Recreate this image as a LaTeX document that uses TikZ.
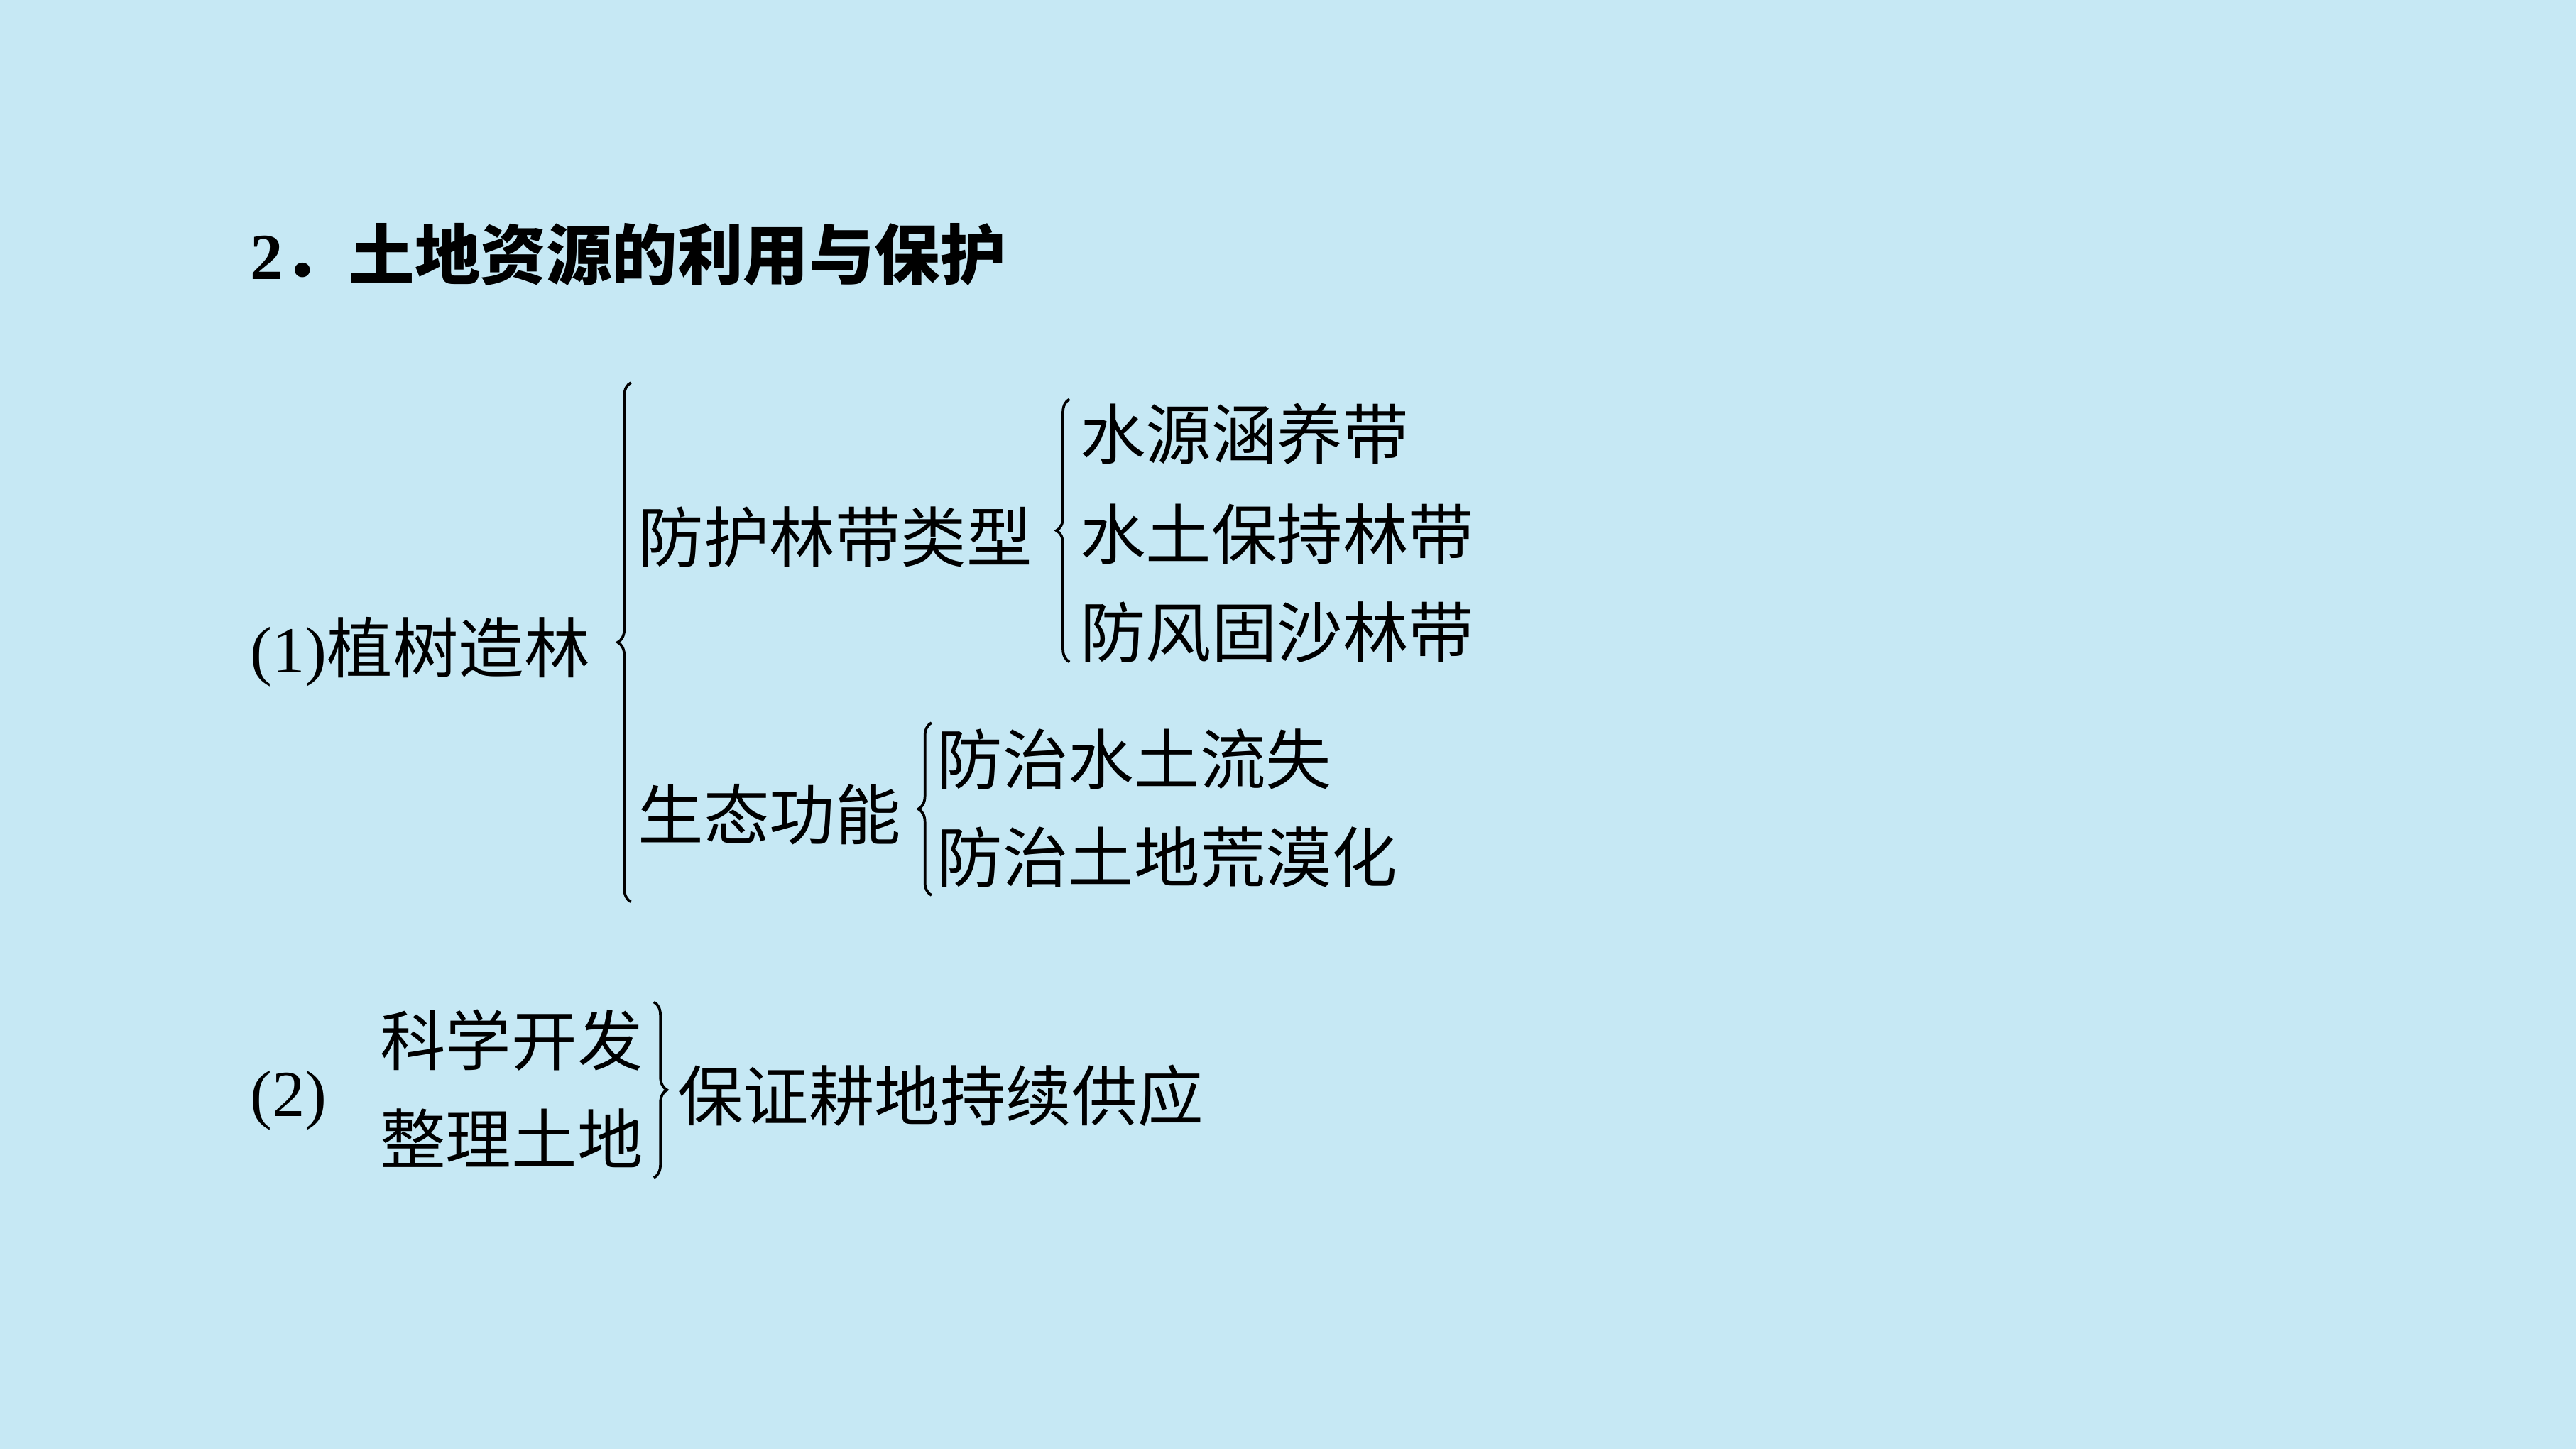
\documentclass[tikz,border=0pt]{standalone}
\usepackage{fontspec}
\setmainfont{Liberation Serif}
\newfontfamily\cjk{Noto Sans CJK SC}
\usetikzlibrary{decorations.pathreplacing}
\definecolor{bg}{HTML}{C6E8F4}
\begin{document}
\begin{tikzpicture}[x=0.5pt,y=-0.5pt,
  t/.style={anchor=west,inner sep=0pt,font=\fontsize{20}{24}\selectfont\cjk},
  br/.style={decorate,decoration={brace,amplitude=4pt},line width=0.8pt}]
\fill[bg] (0,0) rectangle (1568,882);
\node[t,font=\fontsize{20}{24}\selectfont\bfseries\cjk] (title) at (152,155) {{\rmfamily\bfseries 2}．土地资源的利用与保护};
\node[t] (a) at (152,397) {{\rmfamily(1)}植树造林};
\node[t] (b) at (388,327) {防护林带类型};
\node[t] (b1) at (657,264) {水源涵养带};
\node[t] (b2) at (657,325) {水土保持林带};
\node[t] (b3) at (657,385) {防风固沙林带};
\node[t] (c) at (388,496) {生态功能};
\node[t] (c1) at (570,462) {防治水土流失};
\node[t] (c2) at (570,522) {防治土地荒漠化};
\node[t] (d) at (152,670) {{\rmfamily(2)}};
\node[t] (d1) at (231,633) {科学开发};
\node[t] (d2) at (231,693) {整理土地};
\node[t] (e) at (412,667) {保证耕地持续供应};
\draw[br] (384,549) -- (384,233);
\draw[br] (651,403) -- (651,243);
\draw[br] (567,545) -- (567,440);
\draw[br] (398,610) -- (398,717);
\end{tikzpicture}
\end{document}
